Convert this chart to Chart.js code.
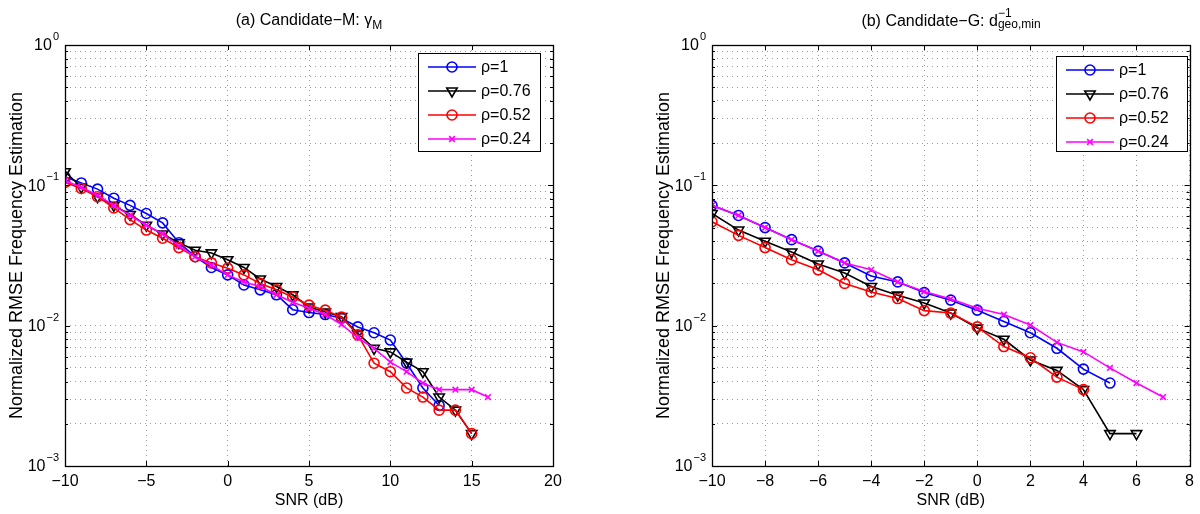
<!DOCTYPE html>
<html>
<head>
<meta charset="utf-8">
<script src="https://cdn.jsdelivr.net/npm/chart.js@4/dist/chart.umd.min.js"></script>
<style>
  body { margin: 0; background: #fff; }
  #wrap { position: relative; width: 1200px; height: 514px; font-family: "Liberation Sans", Arial, sans-serif; }
  canvas { position: absolute; top: 0; }
  .ttl { position: absolute; top: 11px; font-size: 16px; color: #000; transform: translateX(-50%); white-space: nowrap; }
  .ttl sub { font-size: 12px; }
  .ttl .ss { display: inline-block; vertical-align: middle; line-height: 11px; font-size: 12px; position: relative; top: -3px; }
</style>
</head>
<body>
<div id="wrap">
  <canvas id="left" width="600" height="514" style="left:0"></canvas>
  <canvas id="right" width="600" height="514" style="left:600px"></canvas>
  <div class="ttl" style="left:309px">(a) Candidate−M: γ<sub>M</sub></div>
  <div class="ttl" style="left:951px">(b) Candidate−G: d<span class="ss">−1<br>geo,min</span></div>
</div>
<script>
// ----- data -----
const seriesLabels = ['ρ=1', 'ρ=0.76', 'ρ=0.52', 'ρ=0.24'];

// (a) Candidate-M
const snrA = [-10, -9, -8, -7, -6, -5, -4, -3, -2, -1, 0, 1, 2, 3, 4, 5, 6, 7, 8, 9, 10, 11, 12, 13, 14, 15, 16];
const rho1A   = [0.115, 0.104, 0.094, 0.081, 0.072, 0.063, 0.054, 0.039, 0.031, 0.026, 0.023, 0.0195, 0.018, 0.0166, 0.013, 0.0124, 0.012, 0.0113, 0.0098, 0.0089, 0.0079, 0.0054, 0.0036, 0.0027];
const rho076A = [0.125, 0.097, 0.083, 0.072, 0.062, 0.052, 0.045, 0.039, 0.0345, 0.033, 0.0295, 0.026, 0.0215, 0.019, 0.0166, 0.0136, 0.0125, 0.0116, 0.0088, 0.0069, 0.0065, 0.0055, 0.0047, 0.0031, 0.0025, 0.0017];
const rho052A = [0.105, 0.095, 0.083, 0.069, 0.057, 0.048, 0.042, 0.036, 0.031, 0.028, 0.0257, 0.023, 0.020, 0.018, 0.016, 0.014, 0.0129, 0.0115, 0.0086, 0.0054, 0.0047, 0.0036, 0.0031, 0.0025, 0.0025, 0.0017];
const rho024A = [0.108, 0.097, 0.085, 0.072, 0.061, 0.052, 0.045, 0.037, 0.031, 0.027, 0.023, 0.0205, 0.019, 0.0166, 0.0147, 0.0133, 0.012, 0.0102, 0.0082, 0.0069, 0.0055, 0.0047, 0.0039, 0.0035, 0.0035, 0.0035, 0.0031];

// (b) Candidate-G
const snrB = [-10, -9, -8, -7, -6, -5, -4, -3, -2, -1, 0, 1, 2, 3, 4, 5, 6, 7];
const rho1B   = [0.072, 0.061, 0.050, 0.041, 0.034, 0.028, 0.0226, 0.0205, 0.0172, 0.0152, 0.0129, 0.0107, 0.0089, 0.0069, 0.0049, 0.0039];
const rho076B = [0.063, 0.048, 0.040, 0.0335, 0.0275, 0.0237, 0.019, 0.0165, 0.0145, 0.0123, 0.0096, 0.008, 0.0057, 0.0048, 0.0035, 0.0017, 0.0017];
const rho052B = [0.055, 0.044, 0.036, 0.0295, 0.025, 0.020, 0.0174, 0.0156, 0.0128, 0.0123, 0.0098, 0.0071, 0.0059, 0.0043, 0.0035];
const rho024B = [0.072, 0.061, 0.050, 0.041, 0.034, 0.028, 0.025, 0.0205, 0.0175, 0.0155, 0.0133, 0.012, 0.0101, 0.0076, 0.0065, 0.005, 0.0039, 0.0031];

const yTickValues = [0.001, 0.01, 0.1, 1];
const yTickExps = ['−3', '−2', '−1', '0'];

// ----- styling -----
const colors = ['#0000ff', '#000000', '#ff0000', '#ff00ff'];
const markers = [
  { pointStyle: 'circle', radius: 5, rotation: 0 },
  { pointStyle: 'triangle', radius: 6, rotation: 180 },
  { pointStyle: 'circle', radius: 5, rotation: 0 },
  { pointStyle: 'crossRot', radius: 4, rotation: 0 },
];
const FONT = '"Liberation Sans", Arial, sans-serif';
const GRID = 'rgba(0,0,0,0.4)';

function makeDatasets(xs, ys) {
  return ys.map((vals, i) => ({
    label: seriesLabels[i],
    data: vals.map((v, k) => ({ x: xs[k], y: v })),
    borderColor: colors[i],
    borderWidth: 1.6,
    pointBorderColor: colors[i],
    pointBackgroundColor: 'rgba(0,0,0,0)',
    pointBorderWidth: 1.6,
    pointStyle: markers[i].pointStyle,
    pointRadius: markers[i].radius,
    pointRotation: markers[i].rotation,
    tension: 0,
    order: 4 - i,
  }));
}

// all log ticks (1..9 per decade) so the grid gets minor lines
function logTicks() {
  const out = [];
  for (let e = -3; e < 0; e++) {
    for (let m = 1; m < 10; m++) out.push(+(m * Math.pow(10, e)).toPrecision(3));
  }
  out.push(1);
  return out;
}

// box, inward ticks, 10^n labels and legend, MATLAB style
const matlabBox = {
  id: 'matlabBox',
  afterDraw(chart, args, opts) {
    const { ctx, chartArea: a, scales } = chart;
    ctx.save();
    ctx.strokeStyle = '#000';
    ctx.lineWidth = 1;
    ctx.setLineDash([]);
    ctx.beginPath();
    scales.x.ticks.forEach(t => {
      const px = Math.round(scales.x.getPixelForValue(t.value)) + 0.5;
      ctx.moveTo(px, a.bottom); ctx.lineTo(px, a.bottom - 5);
      ctx.moveTo(px, a.top); ctx.lineTo(px, a.top + 5);
    });
    scales.y.ticks.forEach(t => {
      const py = Math.round(scales.y.getPixelForValue(t.value)) + 0.5;
      const len = yTickValues.includes(t.value) ? 5 : 3;
      ctx.moveTo(a.left, py); ctx.lineTo(a.left + len, py);
      ctx.moveTo(a.right, py); ctx.lineTo(a.right - len, py);
    });
    ctx.stroke();
    ctx.lineWidth = 1.3;
    ctx.strokeRect(Math.round(a.left) + 0.5, Math.round(a.top) + 0.5, Math.round(a.right - a.left), Math.round(a.bottom - a.top));

    // y labels: 10 with superscript exponent
    ctx.fillStyle = '#000';
    ctx.textBaseline = 'middle';
    yTickValues.forEach((v, i) => {
      const py = scales.y.getPixelForValue(v);
      ctx.font = '11px ' + FONT;
      const ew = ctx.measureText(yTickExps[i]).width;
      ctx.textAlign = 'right';
      ctx.fillText(yTickExps[i], a.left - 6, py - 8);
      ctx.font = '16px ' + FONT;
      ctx.fillText('10', a.left - 7 - ew, py + 1);
    });

    // legend
    const lg = opts.legend;
    ctx.textAlign = 'left';
    ctx.fillStyle = '#fff';
    ctx.fillRect(lg.x, lg.y, lg.w, lg.h);
    ctx.strokeStyle = '#000';
    ctx.lineWidth = 1;
    ctx.strokeRect(lg.x + 0.5, lg.y + 0.5, lg.w, lg.h);
    ctx.font = '16px ' + FONT;
    chart.data.datasets.forEach((ds, i) => {
      const cy = lg.y + 14 + i * 24;
      ctx.strokeStyle = ds.borderColor;
      ctx.lineWidth = 1.6;
      ctx.beginPath();
      ctx.moveTo(lg.x + 10, cy); ctx.lineTo(lg.x + 58, cy);
      ctx.stroke();
      ctx.fillStyle = 'rgba(0,0,0,0)';
      Chart.helpers.drawPoint(ctx, {
        pointStyle: ds.pointStyle, radius: ds.pointRadius, rotation: ds.pointRotation, borderWidth: 1.6
      }, lg.x + 34, cy);
      ctx.fillStyle = '#000';
      ctx.fillText(ds.label, lg.x + 63, cy + 1);
    });
    ctx.restore();
  }
};

function makeChart(id, xs, ys, xmin, xmax, xstep, pad, legend) {
  return new Chart(document.getElementById(id), {
    type: 'line',
    data: { datasets: makeDatasets(xs, ys) },
    plugins: [matlabBox],
    options: {
      responsive: false,
      animation: false,
      layout: { padding: pad },
      plugins: {
        legend: { display: false },
        tooltip: { enabled: false },
        matlabBox: { legend },
      },
      scales: {
        x: {
          type: 'linear',
          min: xmin, max: xmax,
          afterFit: s => { s.height = 48; },
          ticks: {
            stepSize: xstep, color: '#000', padding: 6,
            font: { family: FONT, size: 16 },
            callback: v => String(v).replace('-', '−'),
          },
          grid: { color: GRID, drawTicks: false },
          border: { display: false, dash: [1, 4] },
          title: { display: true, text: 'SNR (dB)', color: '#000', font: { family: FONT, size: 16 }, padding: { top: 0 } },
        },
        y: {
          type: 'logarithmic',
          min: 0.001, max: 1,
          afterFit: s => { s.width = 65; },
          afterBuildTicks: s => { s.ticks = logTicks().map(v => ({ value: v })); },
          ticks: { display: false, autoSkip: false },
          grid: { color: GRID, drawTicks: false },
          border: { display: false, dash: [1, 4] },
          title: { display: true, text: 'Normalized RMSE Frequency Estimation', color: '#000', font: { family: FONT, size: 18 }, padding: { top: 6, bottom: 0 } },
        },
      },
    },
  });
}

makeChart('left', snrA, [rho1A, rho076A, rho052A, rho024A], -10, 20, 5,
  { top: 45, left: 0, right: 47, bottom: 0 },
  { x: 418, y: 53, w: 122, h: 98 });
makeChart('right', snrB, [rho1B, rho076B, rho052B, rho024B], -10, 8, 2,
  { top: 45, left: 47, right: 9, bottom: 0 },
  { x: 456, y: 56, w: 131, h: 95 });
</script>
</body>
</html>
